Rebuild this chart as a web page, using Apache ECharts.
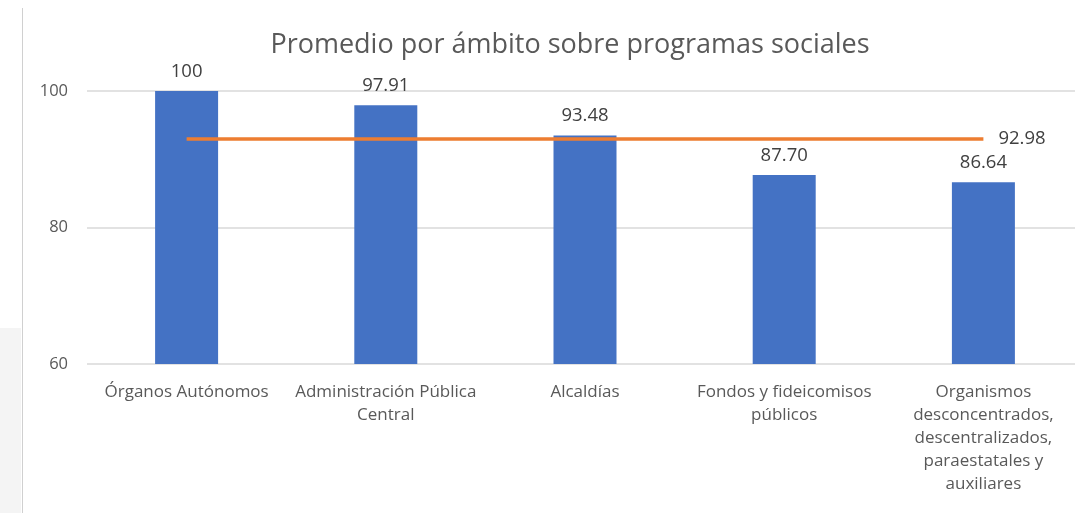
<!DOCTYPE html>
<html>
<head>
<meta charset="utf-8">
<title>Promedio por ámbito</title>
<script src="https://cdn.jsdelivr.net/npm/echarts@6/dist/echarts.min.js"></script>
<style>
  html, body { margin: 0; padding: 0; background: #fff; overflow: hidden; }
  /* el área de trazado sigue más allá del borde derecho, como en la captura */
  #main { width: 1090px; height: 513px; }
</style>
</head>
<body>
<div id="main"></div>
<script>
  // datos
  var categorias = [
    'Órganos Autónomos',
    'Administración Pública\nCentral',
    'Alcaldías',
    'Fondos y fideicomisos\npúblicos',
    'Organismos\ndesconcentrados,\ndescentralizados,\nparaestatales y\nauxiliares'
  ];
  var promedios = [100, 97.91, 93.48, 87.70, 86.64];
  var etiquetas = ['100', '97.91', '93.48', '87.70', '86.64'];
  var promedioGeneral = [92.98, 92.98, 92.98, 92.98, 92.98];
  var ticksY = [60, 80, 100];

  var fuente = '"Open Sans", "Noto Sans", sans-serif';
  var chart = echarts.init(document.getElementById('main'));

  var option = {
    backgroundColor: '#fff',
    animation: false,
    title: {
      text: 'Promedio por ámbito sobre programas sociales',
      left: 565,
      textAlign: 'center',
      top: 27,
      textStyle: { fontFamily: fuente, fontSize: 27, fontWeight: 'normal', color: '#595959' }
    },
    graphic: [
      { type: 'rect', shape: { x: 0, y: 328, width: 21, height: 185 }, style: { fill: '#f4f4f4' } },
      { type: 'line', shape: { x1: 22.5, y1: 8, x2: 22.5, y2: 513 }, style: { stroke: '#d0d0d0', lineWidth: 1 } }
    ],
    grid: { left: 87, right: 7, top: 91, bottom: 149, containLabel: false },
    xAxis: {
      type: 'category',
      data: categorias,
      axisTick: { show: false },
      axisLine: { show: false },
      axisLabel: {
        interval: 0,
        margin: 17,
        fontFamily: fuente,
        fontSize: 17,
        lineHeight: 23,
        color: '#595959'
      }
    },
    yAxis: {
      type: 'value',
      min: ticksY[0],
      max: ticksY[ticksY.length - 1],
      interval: 20,
      axisLine: { show: false },
      axisTick: { show: false },
      splitLine: { lineStyle: { color: '#d9d9d9', width: 1.5 } },
      axisLabel: { margin: 19, fontFamily: fuente, fontSize: 16.5, color: '#595959' }
    },
    series: [
      {
        name: 'Promedio',
        type: 'bar',
        data: promedios,
        barWidth: 63,
        itemStyle: { color: '#4472C4' },
        label: {
          show: true,
          position: 'top',
          distance: 10,
          fontFamily: fuente,
          fontSize: 18.5,
          color: '#404040',
          formatter: function (p) { return etiquetas[p.dataIndex]; }
        },
        z: 2
      },
      {
        name: 'Promedio general',
        type: 'line',
        data: promedioGeneral,
        symbol: 'none',
        lineStyle: { color: '#ED7D31', width: 3.5 },
        endLabel: {
          show: true,
          distance: 15,
          fontFamily: fuente,
          fontSize: 18.5,
          color: '#404040',
          formatter: function (p) { return p.value.toFixed(2); }
        },
        z: 3
      }
    ]
  };
  chart.setOption(option);
</script>
</body>
</html>
